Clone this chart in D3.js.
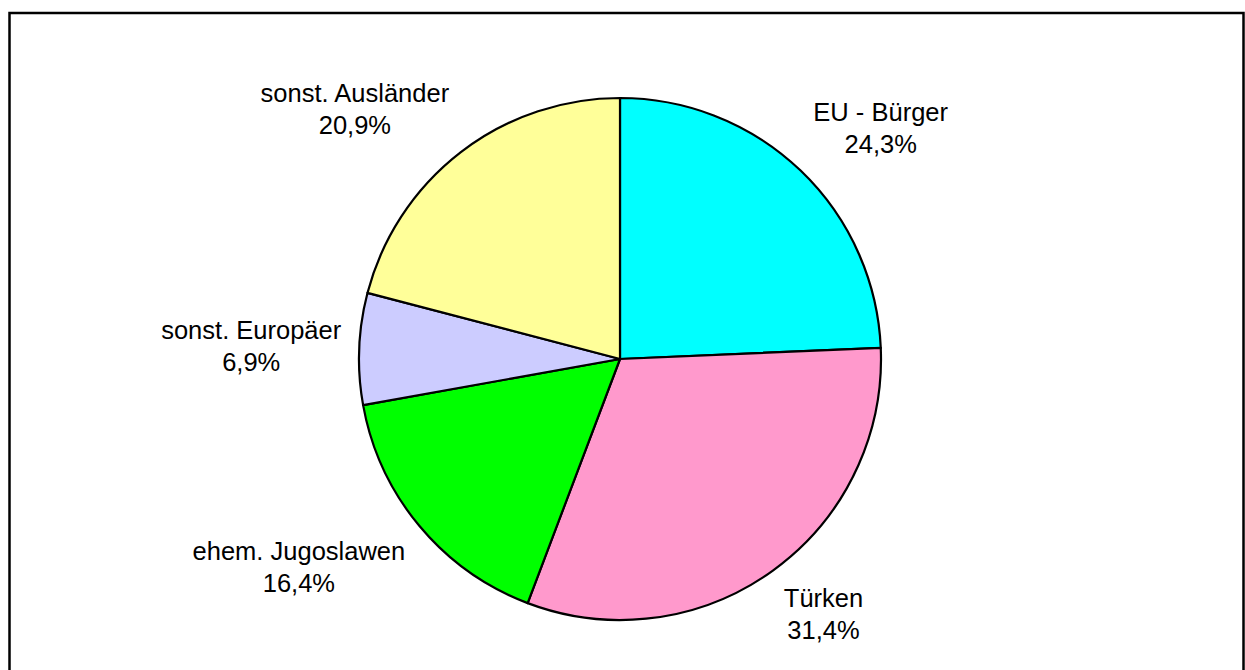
<!doctype html>
<html lang="de">
  <head>
    <meta charset="utf-8">
    <title>Ausländer nach Staatsangehörigkeit</title>
    <style>
      body {
        margin: 0;
        background: #fff;
      }
      svg text {
        font-family: "Liberation Sans", Arial, sans-serif;
        font-size: 25.5px;
        fill: #000;
      }
    </style>
  </head>
  <body>
    <svg id="chart" width="1245" height="670"></svg>

    <script src="https://d3js.org/d3.v7.min.js"></script>
    <script>
      // values, clockwise from 12 o'clock
      const categories = ['EU - Bürger', 'Türken', 'ehem. Jugoslawen', 'sonst. Europäer', 'sonst. Ausländer']
      const shares = [24.3, 31.4, 16.4, 6.9, 20.9]
      const colours = ['#00ffff', '#ff99cc', '#00ff00', '#ccccff', '#ffff99']

      const data = categories.map((name, i) => ({ name, value: shares[i] }))

      const cx = 620
      const cy = 359
      const radius = 261
      const labelGap = 17
      const lineHeight = 32

      const svg = d3.select('#chart')

      // frame round the chart area
      svg.append('rect')
        .attr('x', 9.5)
        .attr('y', 13)
        .attr('width', 1234)
        .attr('height', 700)
        .attr('fill', 'none')
        .attr('stroke', '#000')
        .attr('stroke-width', 2.5)

      const colour = d3.scaleOrdinal()
        .domain(categories)
        .range(colours)

      const pie = d3.pie()
        .sort(null)
        .value(d => d.value)

      const arc = d3.arc()
        .innerRadius(0)
        .outerRadius(radius)

      const arcs = pie(data)

      const g = svg.append('g')
        .attr('transform', `translate(${cx}, ${cy})`)

      g.selectAll('path')
        .data(arcs)
        .enter()
          .append('path')
            .attr('d', arc)
            .attr('fill', d => colour(d.data.name))
            .attr('stroke', '#000')
            .attr('stroke-width', 2.2)
            .attr('stroke-linejoin', 'round')

      // labels sit outside, with the corner nearest the pie at a fixed gap
      const clamp = v => Math.max(-1, Math.min(1, v))
      const fmt = v => d3.format('.1f')(v).replace('.', ',') + '%'

      const labels = g.selectAll('g.label')
        .data(arcs)
        .enter()
          .append('g')
            .attr('class', 'label')

      labels.each(function (d) {
        const el = d3.select(this)
        const t = el.append('text').attr('text-anchor', 'middle')
        t.append('tspan').attr('x', 0).attr('y', 0).text(d.data.name)
        t.append('tspan').attr('x', 0).attr('y', lineHeight).text(fmt(d.data.value))

        const widths = []
        t.selectAll('tspan').each(function () { widths.push(this.getComputedTextLength()) })
        const hw = d3.max(widths) / 2 + 1
        const hh = 30

        const a = (d.startAngle + d.endAngle) / 2
        const s = Math.sin(a)
        const c = Math.cos(a)
        const px = (radius + labelGap) * s
        const py = -(radius + labelGap) * c
        const bx = px + hw * clamp(s * 2)
        const by = py - hh * clamp(c * 2)
        el.attr('transform', `translate(${bx}, ${by - 7})`)
      })
    </script>
  </body>
</html>
